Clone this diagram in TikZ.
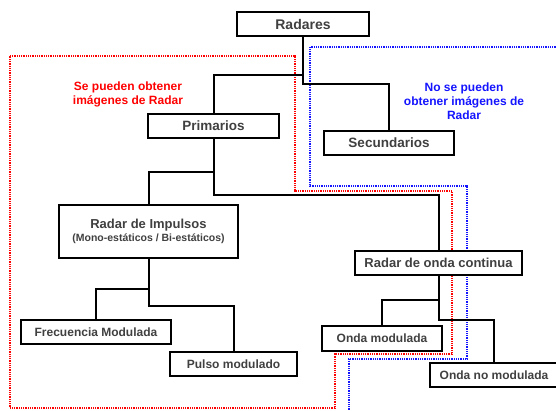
\documentclass[tikz,border=0pt]{standalone}
\usepackage{fontspec}
\setmainfont{Liberation Sans}
\definecolor{txtgray}{RGB}{64,64,64}
\definecolor{lblred}{RGB}{255,0,0}
\definecolor{lblblue}{RGB}{20,20,255}
\begin{document}
\begin{tikzpicture}[x=1pt,y=-1pt,
  box/.style={draw=black,line width=2pt,fill=white,inner sep=0pt,
    text=txtgray,font=\bfseries\fontsize{13}{15}\selectfont,
    minimum height=24pt,align=center},
  smallbox/.style={box,font=\bfseries\fontsize{12}{14}\selectfont},
  conn/.style={draw=black,line width=2pt},
  redzone/.style={draw=lblred,line width=1.6pt,dash pattern=on 1pt off 0.8pt},
  bluezone/.style={draw=lblblue,line width=1.6pt,dash pattern=on 1pt off 0.8pt},
  zonelabel/.style={font=\bfseries\fontsize{12}{14}\selectfont,align=center}]
\useasboundingbox (0,0) rectangle (556,410);
\clip (0,0) rectangle (556,410);
% zones
\draw[redzone] (10,56) -- (295,56) -- (295,191) -- (452,191) -- (452,354) -- (335,354) -- (335,408) -- (10,408) -- cycle;
\draw[bluezone] (560,47) -- (310,47) -- (310,186) -- (467,186) -- (467,359) -- (349,359) -- (349,414);
% labels
\node[zonelabel,text=lblred] (lr) at (128,94) {Se pueden obtener\\imágenes de Radar};
\node[zonelabel,text=lblblue] (lb) at (464,101) {No se pueden\\obtener imágenes de\\Radar};
% connector junctions
\coordinate (j1) at (303,75);
\coordinate (j2) at (213.5,172);
\coordinate (j3) at (148.5,289);
\coordinate (j4) at (438.5,300);
% boxes
\node[box,minimum width=132pt,font=\bfseries\fontsize{14}{16}\selectfont] (rad) at (303,24) {Radares};
\node[box,minimum width=131pt,font=\bfseries\fontsize{13.5}{16}\selectfont] (pri) at (213.5,126) {Primarios};
\node[box,minimum width=130pt,font=\bfseries\fontsize{13.5}{16}\selectfont] (sec) at (389,143) {Secundarios};
\node[box,minimum width=179pt,minimum height=53pt] (imp) at (148.5,231.5) {Radar de Impulsos\\[-1.5pt]{\fontsize{10.5}{12}\selectfont(Mono-estáticos / Bi-estáticos)}};
\node[box,minimum width=167pt] (ond) at (438.5,263) {Radar de onda continua};
\node[smallbox,minimum width=150pt] (frec) at (96,332) {Frecuencia Modulada};
\node[smallbox,minimum width=127pt] (pul) at (233.5,364) {Pulso modulado};
\node[smallbox,minimum width=120pt,minimum height=25pt] (omod) at (382,338.5) {Onda modulada};
\node[smallbox,minimum width=128pt] (onm) at (494,375) {Onda no modulada};
% connectors
\draw[conn] (rad.south) -- ++(0,47) -| (sec.north);
\draw[conn] (j1) -| (pri.north);
\draw[conn] (pri.south) -- ++(0,56) -| (ond.north);
\draw[conn] (j2) -| (imp.north);
\draw[conn] (imp.south) -- ++(0,47) -| (pul.north);
\draw[conn] (j3) -| (frec.north);
\draw[conn] (ond.south) -- ++(0,44) -| (onm.north);
\draw[conn] (j4) -| (omod.north);
\end{tikzpicture}
\end{document}
